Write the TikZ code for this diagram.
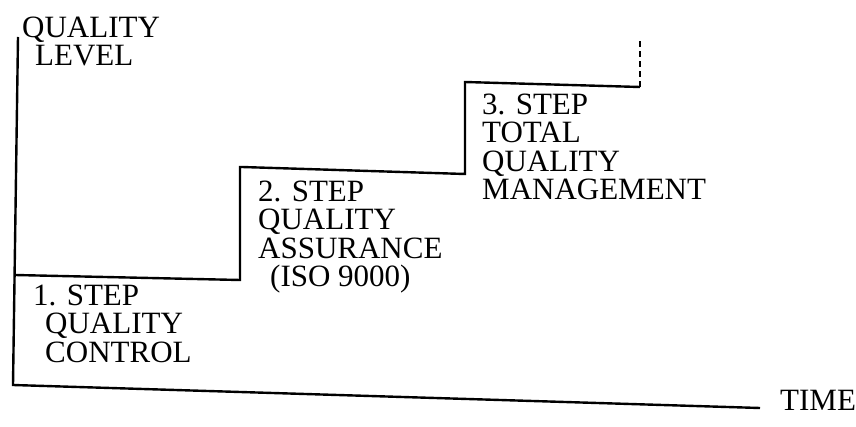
\documentclass[tikz,border=0pt]{standalone}
\usepackage{fontspec}
\setmainfont{Liberation Serif}
\usepackage{tikz}

\begin{document}
\begin{tikzpicture}[x=1pt,y=-1pt,
    line/.style={line width=2.4pt},
    label/.style={anchor=base west,inner sep=0pt,align=left,
      font=\fontsize{31}{28.5}\selectfont}]
\useasboundingbox (0,0) rectangle (856,427);
\coordinate (ytop) at (18,37);
\coordinate (origin) at (13,385);
\coordinate (xend) at (760,408);
\coordinate (s1a) at (15,275);
\coordinate (s1b) at (240,280);
\coordinate (s2a) at (242,167);
\coordinate (s2b) at (465,174);
\coordinate (s3a) at (465,82);
\coordinate (s3b) at (640,87);
\coordinate (s3c) at (640,40);
\draw[line] (ytop) -- (origin) -- (xend);
\draw[line] (s1a) -- (s1b) |- (s2a) -- (s2b) |- (s3a) -- (s3b);
\draw[line,dash pattern=on 6pt off 4pt] (s3b) -- (s3c);
\node[label] (ylabel) at (22,66) {QUALITY\\\hspace*{13pt}LEVEL};
\node[label] (xlabel) at (780,410) {TIME};
\node[label] (step1) at (33,362) {1. STEP\\\hspace*{12pt}QUALITY\\\hspace*{12pt}CONTROL};
\node[label] (step2) at (258,287) {2. STEP\\QUALITY\\ASSURANCE\\\hspace*{12pt}(ISO 9000)};
\node[label] (step3) at (482,200) {3. STEP\\TOTAL\\QUALITY\\MANAGEMENT};
\end{tikzpicture}
\end{document}
